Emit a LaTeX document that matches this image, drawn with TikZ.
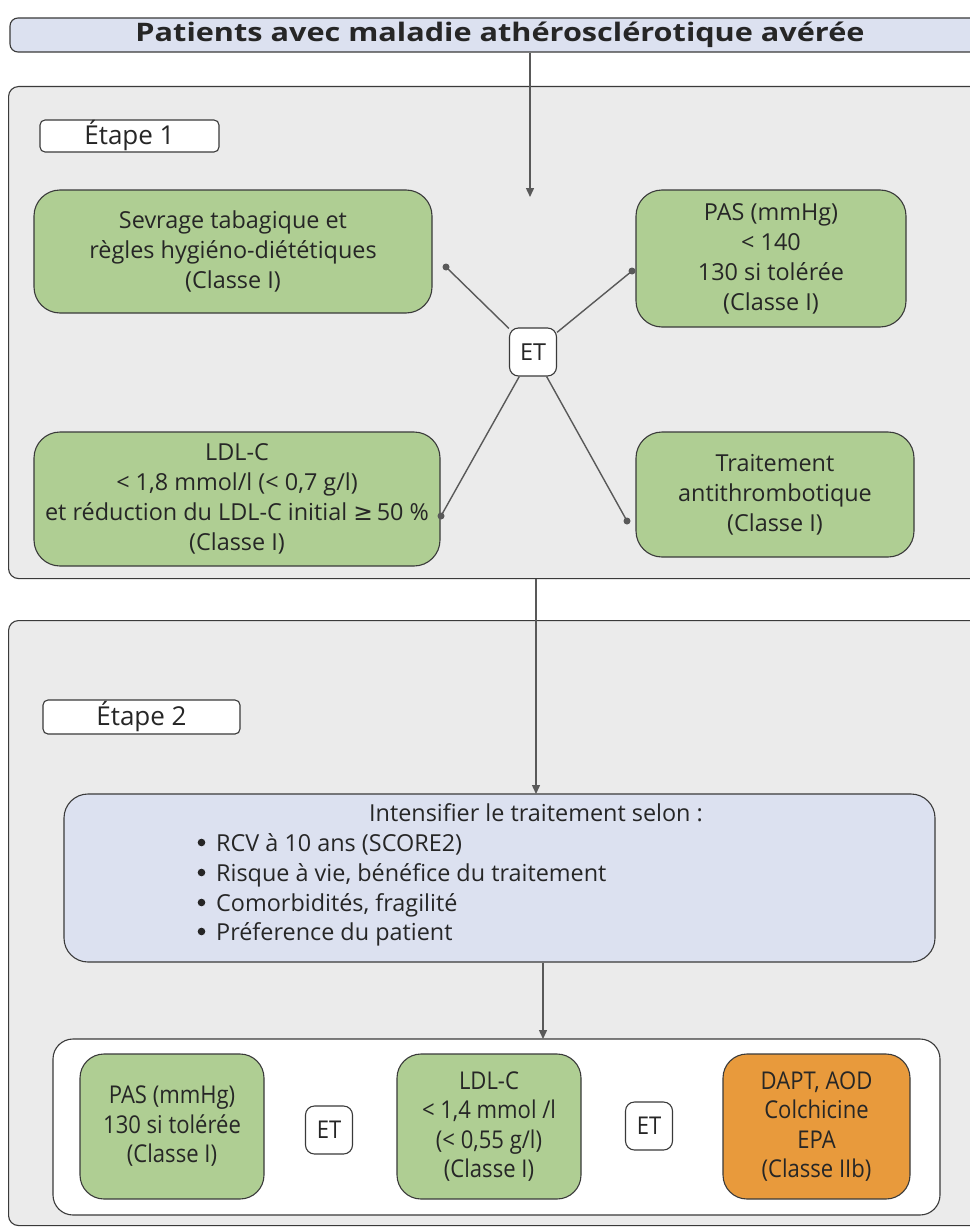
\documentclass[tikz,border=0pt]{standalone}
\usepackage{fontspec}
\setmainfont{Open Sans}
\newfontfamily\condfont[FakeStretch=0.9]{Open Sans}
\newfontfamily\symfont{DejaVu Sans}
\usetikzlibrary{arrows.meta}
\definecolor{bord}{HTML}{3A3A3A}
\definecolor{gfill}{HTML}{AFCE93}
\definecolor{bfill}{HTML}{DCE1F0}
\definecolor{grayfill}{HTML}{EBEBEB}
\definecolor{ofill}{HTML}{E89A3C}
\definecolor{linec}{HTML}{595959}
\newcommand\fsone{\fontsize{23.4}{30}\selectfont}
\newcommand\fslbl{\fontsize{26}{30}\selectfont}
\newcommand\fstwo{\condfont\fontsize{24.5}{29.5}\selectfont}
\newcommand\ftitle{\bfseries\fontsize{25.5}{34}\selectfont}
\begin{document}
\begin{tikzpicture}[x=1pt,y=-1pt,
  every node/.style={text=black!85},
  titlebox/.style={draw=bord,line width=1.1pt,fill=bfill,rounded corners=8pt,font=\ftitle,inner sep=0pt},
  stagebox/.style={draw=bord,line width=1.1pt,fill=grayfill,rounded corners=10pt,inner sep=0pt},
  lbl/.style={draw=bord,line width=1.1pt,fill=white,rounded corners=5pt,inner sep=0pt,font=\fslbl},
  gbox/.style={draw=bord,line width=1.1pt,fill=gfill,rounded corners=26pt,align=center,inner sep=0pt,font=\fsone},
  gboxb/.style={draw=bord,line width=1.1pt,fill=gfill,rounded corners=24pt,align=center,inner sep=0pt,font=\fstwo},
  obox/.style={draw=bord,line width=1.1pt,fill=ofill,rounded corners=24pt,align=center,inner sep=0pt,font=\fstwo},
  ibox/.style={draw=bord,line width=1.1pt,fill=bfill,rounded corners=24pt,inner sep=0pt},
  wbox/.style={draw=bord,line width=1.1pt,fill=white,rounded corners=20pt,inner sep=0pt},
  etbox/.style={draw=bord,line width=1.1pt,fill=white,rounded corners=9pt,inner sep=0pt,minimum width=47pt,minimum height=48pt},
  itxt/.style={font=\fsone,inner sep=0pt},
  bulletdot/.style={fill=black!85},
  conn/.style={draw=linec,line width=1.4pt},
  arr/.style={draw=linec,line width=1.4pt,-{Triangle[length=9pt,width=8pt]}},
  dotc/.style={fill=linec}
]
\useasboundingbox (0,0) rectangle (969,1228);
\fill[white] (0,0) rectangle (969,1228);

% title
\node[titlebox,minimum width=980pt,minimum height=34pt] (title) at (500,35) {\resizebox{729pt}{\height}{Patients avec maladie athérosclérotique avérée}};

% stage 1
\node[stagebox,anchor=north west,minimum width=1000pt,minimum height=492pt] (s1) at (8,86) {};
\node[lbl,minimum width=179pt,minimum height=32pt] (e1) at (129.5,136) {Étape 1};

\node[gbox,minimum width=398pt,minimum height=123pt] (sev) at (233,251.5) {Sevrage tabagique et\\règles hygiéno-diététiques\\(Classe I)};
\node[gbox,minimum width=270pt,minimum height=137pt] (pas) at (771,258.5) {PAS (mmHg)\\< 140\\130 si tolérée\\(Classe I)};
\node[gbox,minimum width=406pt,minimum height=134pt] (ldl) at (237,499) {LDL-C\\< 1,8 mmol/l (< 0,7 g/l)\\et réduction du LDL-C initial {\symfont ≥}\,50 \%\\(Classe I)};
\node[gbox,minimum width=278pt,minimum height=125pt] (trt) at (775,494.5) {Traitement\\antithrombotique\\(Classe I)};

\node[etbox,font=\fsone] (et) at (533,352) {ET};
\coordinate (d1) at (446,267);
\coordinate (d2) at (632,271);
\coordinate (d3) at (441,516);
\coordinate (d4) at (627,521);
\foreach \d in {d1,d2,d3,d4}{
  \draw[conn] (\d) -- (et);
  \fill[dotc] (\d) circle (3.5pt);
}

% stage 2
\node[stagebox,anchor=north west,minimum width=1000pt,minimum height=605pt] (s2) at (8,620) {};
\node[lbl,minimum width=197pt,minimum height=34pt] (e2) at (141.5,717) {Étape 2};

\node[ibox,minimum width=871pt,minimum height=168pt] (intens) at (499.5,878) {};
\node[itxt,anchor=base] (ititle) at (536,821) {Intensifier le traitement selon :};
\node[itxt,anchor=base west] (b1) at (216,851) {RCV à 10 ans (SCORE2)};
\node[itxt,anchor=base west] (b2) at (216,881) {Risque à vie, bénéfice du traitement};
\node[itxt,anchor=base west] (b3) at (216,911) {Comorbidités, fragilité};
\node[itxt,anchor=base west] (b4) at (216,940) {Préference du patient};
\foreach \yb in {851,881,911,940}{
  \fill[bulletdot] (201.5,\yb-8.5) circle (3.8pt);
}

\node[wbox,minimum width=887pt,minimum height=176pt] (bot) at (496.5,1127) {};
\node[gboxb,minimum width=184pt,minimum height=145pt] (pas2) at (172,1126.5) {PAS (mmHg)\\130 si tolérée\\(Classe I)};
\node[etbox,font=\fstwo] (et2) at (329,1130) {ET};
\node[gboxb,minimum width=184pt,minimum height=145pt] (ldl2) at (489,1126.5) {LDL-C\\< 1,4 mmol /l\\(< 0,55 g/l)\\(Classe I)};
\node[etbox,font=\fstwo] (et3) at (649,1126) {ET};
\node[obox,minimum width=187pt,minimum height=145pt] (dapt) at (816.5,1126.5) {DAPT, AOD\\Colchicine\\EPA\\(Classe IIb)};

% arrows
\coordinate (a1) at (530,197);
\draw[arr] (title.south -| a1) -- (a1);
\coordinate (a2) at (536,794);
\draw[arr] (s1.south -| a2) -- (a2);
\coordinate (a3) at (543,1039);
\draw[arr] (intens.south -| a3) -- (a3);
\end{tikzpicture}
\end{document}
